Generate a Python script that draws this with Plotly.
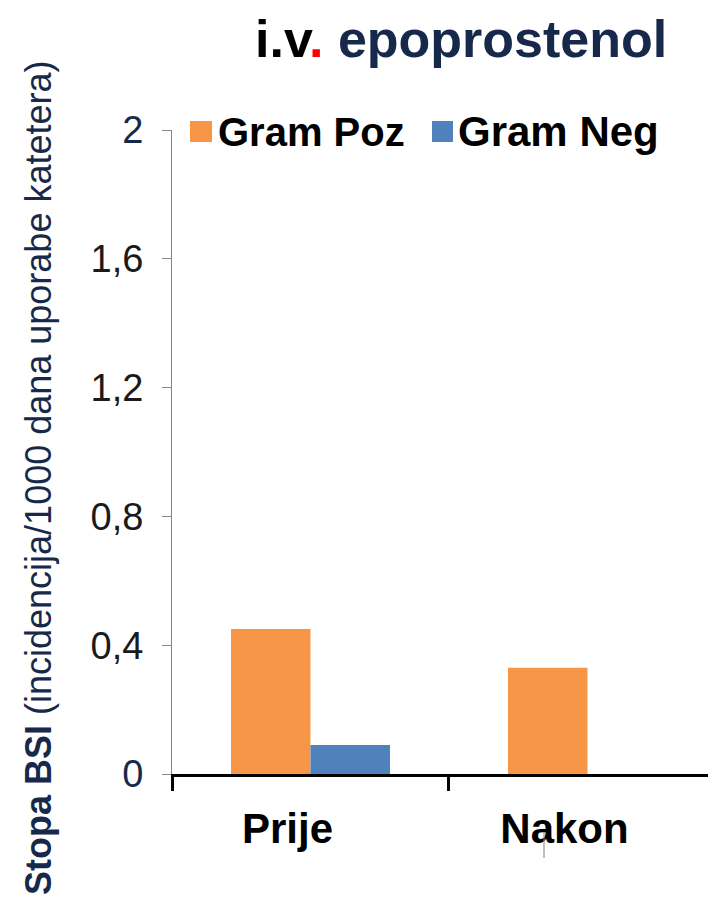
import plotly.graph_objects as go

categories = ["Prije", "Nakon"]
gram_poz = [0.45, 0.33]
gram_neg = [0.09, 0.0]
y_tick_vals = [0, 0.4, 0.8, 1.2, 1.6, 2]
y_tick_text = ["0", "0,4", "0,8", "1,2", "1,6", "2"]
series_names = ["Gram Poz", "Gram Neg"]

ORANGE = "#F79646"
BLUE = "#4F81BD"
NAVY = "#17294A"
FONT = "Liberation Sans, Arial, sans-serif"

# page has an 8px body margin; size the figure so it ends at the window edge
OFF = 8
SW, SH = 716, 901           # screen size
W, H = SW - OFF, SH - OFF   # figure size
# plot area in screen pixels: x 172..716, y 130..774
L, T = 172 - OFF, 130 - OFF
R, B = 0, SH - 774
PW, PH = W - L - R, H - T - B


def px(x):  # screen x -> paper
    return (x - OFF - L) / PW


def py(y):  # screen y -> paper
    return (SH - B - y) / PH


fig = go.Figure()
fig.add_trace(go.Bar(x=categories, y=gram_poz, name=series_names[0],
                     marker=dict(color=ORANGE, line=dict(width=0)), showlegend=False))
fig.add_trace(go.Bar(x=categories, y=gram_neg, name=series_names[1],
                     marker=dict(color=BLUE, line=dict(width=0)), showlegend=False))

tick_text_colored = []
for v, t in zip(y_tick_vals, y_tick_text):
    if v in (0, 2):
        tick_text_colored.append(f"<span style='color:{NAVY}'>{t}</span>")
    else:
        tick_text_colored.append(t)

fig.update_layout(
    width=W, height=H,
    margin=dict(l=L, r=R, t=T, b=B, pad=0),
    paper_bgcolor="white", plot_bgcolor="white",
    barmode="group", bargap=0.426, bargroupgap=0,
    font=dict(family=FONT, color="#111111"),
    xaxis=dict(
        type="category", range=[-0.5, 1.464],
        showline=True, linecolor="black", linewidth=3,
        ticks="outside", tickson="boundaries", ticklen=14, tickwidth=3, tickcolor="black",
        tickfont=dict(size=42, color="black", family=FONT, weight="bold"),
        ticklabelshift=-23, ticklabelstandoff=16,
        showgrid=False, zeroline=False,
    ),
    yaxis=dict(
        range=[0, 2], tickvals=y_tick_vals, ticktext=tick_text_colored,
        showline=True, linecolor="#868686", linewidth=1,
        ticks="outside", ticklen=9, tickwidth=1, tickcolor="#868686",
        tickfont=dict(size=38, color="#1a1a1a", family=FONT),
        ticklabelstandoff=11,
        showgrid=False, zeroline=False,
    ),
)

# title
fig.add_annotation(
    xref="paper", yref="paper", x=px(461), y=py(9), xanchor="center", yanchor="top",
    text=f"<b>i.v<span style='color:#FF0000'>.</span> <span style='color:{NAVY}'>epoprostenol</span></b>",
    showarrow=False, borderpad=0, font=dict(size=52, family=FONT, color="black"),
)

# y-axis title
fig.add_annotation(
    xref="paper", yref="paper", x=px(38), y=py(478), xanchor="center", yanchor="middle",
    text="<b>Stopa BSI</b> (incidencija/1000 dana uporabe katetera)", textangle=-90,
    showarrow=False, borderpad=0, font=dict(size=36, family=FONT, color=NAVY),
)

# legend
legend_items = [(series_names[0], ORANGE, 190, 212, 216, 40),
                (series_names[1], BLUE, 432, 453, 456, 42)]
for name, col, x0, x1, tx, fs in legend_items:
    fig.add_shape(type="rect", xref="paper", yref="paper",
                  x0=px(x0), x1=px(x1), y0=py(142), y1=py(121),
                  fillcolor=col, line=dict(width=0))
    fig.add_annotation(xref="paper", yref="paper", x=px(tx), y=py(132),
                       xanchor="left", yanchor="middle", text=f"<b>{name}</b>",
                       showarrow=False, font=dict(size=fs, family=FONT, color="black"))

# small stray tick under "Nakon"
fig.add_shape(type="line", xref="paper", yref="paper",
              x0=px(544), x1=px(544), y0=py(858), y1=py(832),
              line=dict(color="#7f7f7f", width=1))

fig.write_html("out.html")
